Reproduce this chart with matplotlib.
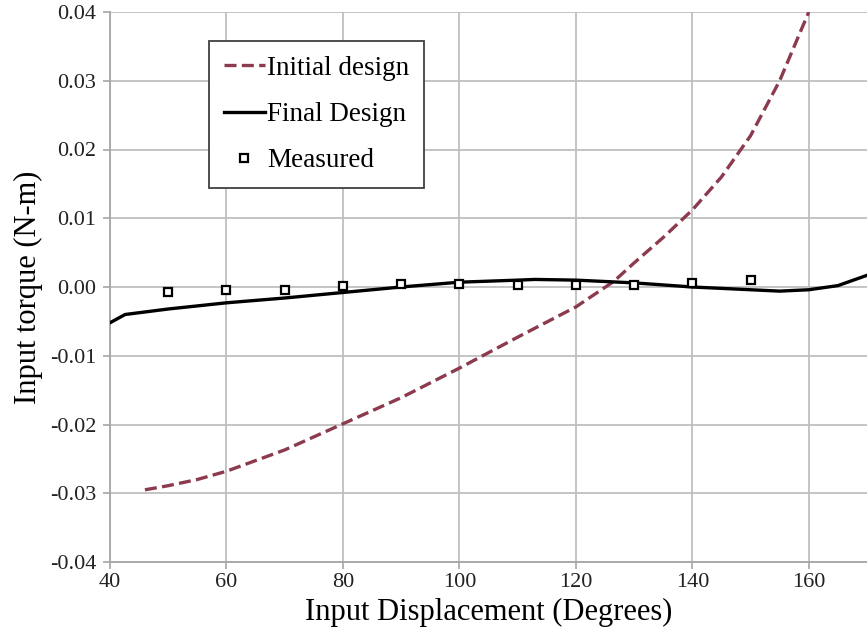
import matplotlib
matplotlib.use("Agg")
import matplotlib.pyplot as plt

plt.rcParams['font.family'] = ['Liberation Serif', 'DejaVu Serif']

# Data
initial_x = [46, 50, 55, 60, 70, 80, 90, 100, 110, 120, 126.5, 130, 135, 140, 145, 150, 155, 160]
initial_y = [-0.0295, -0.0289, -0.0280, -0.0268, -0.0237, -0.0199, -0.0161, -0.0118,
             -0.0073, -0.0029, 0.0008, 0.0035, 0.0072, 0.0112, 0.0160, 0.0220, 0.0300, 0.0400]

final_x = [40, 42.6, 50, 60, 70, 80, 90, 100, 110, 113, 120, 130, 140, 150, 155, 160, 165, 170]
final_y = [-0.0052, -0.0040, -0.0032, -0.0023, -0.0016, -0.0008, 0.0000, 0.0007, 0.0010,
           0.0011, 0.0010, 0.0006, 0.0000, -0.0004, -0.0006, -0.0004, 0.0002, 0.0017]

measured_x = [50, 60, 70, 80, 90, 100, 110, 120, 130, 140, 150]
measured_y = [-0.0007, -0.0005, -0.0005, 0.0001, 0.0005, 0.0004, 0.0003, 0.0003, 0.0003, 0.0006, 0.0010]

x_ticks = [40, 60, 80, 100, 120, 140, 160]
y_ticks = [-0.04, -0.03, -0.02, -0.01, 0.00, 0.01, 0.02, 0.03, 0.04]
y_tick_labels = ['-0.04', '-0.03', '-0.02', '-0.01', '0.00', '0.01', '0.02', '0.03', '0.04']

fig = plt.figure(figsize=(8.67, 6.40), dpi=100)
ax = fig.add_axes([110/867, 1-562/640, 1.0-110/867, (562-12)/640])

grid_color = '#bfbfbf'
ax.set_xlim(40, 170)
ax.set_ylim(-0.04, 0.04)
ax.set_xticks(x_ticks)
ax.set_yticks(y_ticks)
ax.set_yticklabels(y_tick_labels)
ax.grid(True, color=grid_color, linewidth=1.3, zorder=0)
ax.set_axisbelow(True)
for s in ['top', 'right']:
    ax.spines[s].set_visible(False)
for s in ['left', 'bottom']:
    ax.spines[s].set_color('#a6a6a6')
    ax.spines[s].set_linewidth(1.3)
ax.tick_params(axis='both', which='major', direction='out', length=5, width=1.2,
               color='#a6a6a6', labelsize=16, labelcolor='#222222')
ax.tick_params(axis='x', pad=3)
ax.tick_params(axis='y', pad=5)

ax.plot(initial_x, initial_y, color='#8C3A4E', linewidth=2.4, dashes=(3.6, 1.6),
        label='Initial design', zorder=3)
ax.plot(final_x, final_y, color='black', linewidth=2.4, label='Final Design', zorder=4)
ax.plot(measured_x, measured_y, linestyle='none', marker='s', markersize=6.2,
        markerfacecolor='white', markeredgecolor='black', markeredgewidth=1.6,
        label='Measured', zorder=5)

ax.set_xlabel('Input Displacement (Degrees)', fontsize=22, labelpad=4)
ax.set_ylabel('Input torque (N-m)', fontsize=22, labelpad=5)

leg = ax.legend(loc='upper left', bbox_to_anchor=((209-110)/757, (562-41)/550),
                borderaxespad=0, fontsize=19.5, numpoints=1, handlelength=1.5,
                handletextpad=0.1, labelspacing=0.78, borderpad=0.55,
                fancybox=False, framealpha=1, edgecolor='#404040')
leg.get_frame().set_linewidth(1.3)

fig.savefig('out.png', dpi=100)
